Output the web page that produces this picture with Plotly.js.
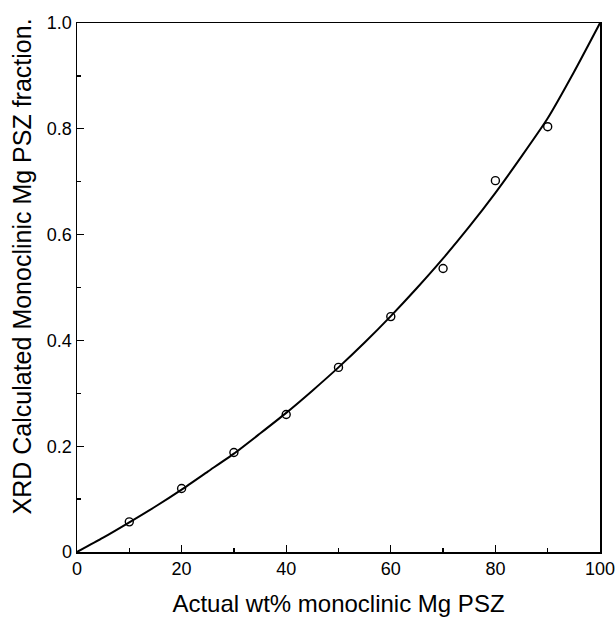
<!DOCTYPE html>
<html>
<head>
<meta charset="utf-8">
<script src="https://cdn.plot.ly/plotly-3.0.1.min.js"></script>
<style>html,body{margin:0;padding:0;background:#fff;}#chart{width:615px;height:617px;}</style>
</head>
<body>
<div id="chart"></div>
<script>
// measured points
const actualWt = [10, 20, 30, 40, 50, 60, 70, 80, 90];
const xrdFraction = [0.057, 0.12, 0.188, 0.26, 0.349, 0.445, 0.536, 0.702, 0.804];
// calibration curve
const curveX = [0, 5, 10, 15, 20, 25, 30, 35, 40, 45, 50, 55, 60, 65, 70, 75, 80, 85, 90, 95, 100];
const curveY = [0, 0.027, 0.056, 0.086, 0.118, 0.152, 0.186, 0.224, 0.263, 0.305, 0.349, 0.396, 0.446, 0.499, 0.555, 0.615, 0.679, 0.748, 0.82, 0.907, 1.0];
const xTickVals = [0, 20, 40, 60, 80, 100];
const xTickText = ['0', '20', '40', '60', '80', '100'];
const yTickVals = [0, 0.2, 0.4, 0.6, 0.8, 1.0];
const yTickText = ['0', '0.2', '0.4', '0.6', '0.8', '1.0'];
const xTitle = 'Actual wt% monoclinic Mg PSZ';
const yTitle = 'XRD Calculated Monoclinic Mg PSZ fraction.';

const FONT = 'Liberation Sans, Arial, sans-serif';

const traces = [
  {x: curveX, y: curveY, type: 'scatter', mode: 'lines',
   line: {color: '#000', width: 2, shape: 'spline', smoothing: 0.6}, hoverinfo: 'skip'},
  {x: actualWt, y: xrdFraction, type: 'scatter', mode: 'markers',
   marker: {symbol: 'circle-open', size: 8, color: '#000', line: {width: 1.4, color: '#000'}}}
];

const layout = {
  width: 615, height: 617,
  margin: {l: 77, r: 15, t: 23, b: 65},
  paper_bgcolor: '#fff', plot_bgcolor: '#fff',
  showlegend: false,
  font: {family: FONT, color: '#000', size: 18},
  xaxis: {
    range: [0, 100], tickmode: 'array', tickvals: xTickVals, ticktext: xTickText,
    ticks: 'inside', ticklen: 7, tickwidth: 1.3, tickcolor: '#000',
    minor: {dtick: 10, tick0: 0, ticks: 'inside', ticklen: 4, tickwidth: 1.3, tickcolor: '#000', showgrid: false},
    showline: true, linecolor: '#000', linewidth: 1.5, mirror: true,
    showgrid: false, zeroline: false, fixedrange: true,
    ticklabeloverflow: 'allow',
    tickfont: {family: FONT, size: 18},
    title: {text: xTitle, font: {family: FONT, size: 24}, standoff: 20}
  },
  yaxis: {
    range: [0, 1.0], tickmode: 'array', tickvals: yTickVals, ticktext: yTickText,
    ticks: 'inside', ticklen: 7, tickwidth: 1.3, tickcolor: '#000',
    minor: {dtick: 0.1, tick0: 0, ticks: 'inside', ticklen: 4, tickwidth: 1.3, tickcolor: '#000', showgrid: false},
    showline: true, linecolor: '#000', linewidth: 1.5, mirror: true,
    showgrid: false, zeroline: false, fixedrange: true,
    ticklabeloverflow: 'allow',
    tickfont: {family: FONT, size: 18}
  },
  annotations: [{
    text: yTitle, xref: 'paper', yref: 'paper', x: -0.105, y: 0.54,
    xanchor: 'center', yanchor: 'middle', textangle: -90, showarrow: false,
    font: {family: FONT, size: 25, color: '#000'}
  }]
};

Plotly.newPlot('chart', traces, layout, {staticPlot: true, displayModeBar: false});
</script>
</body>
</html>
